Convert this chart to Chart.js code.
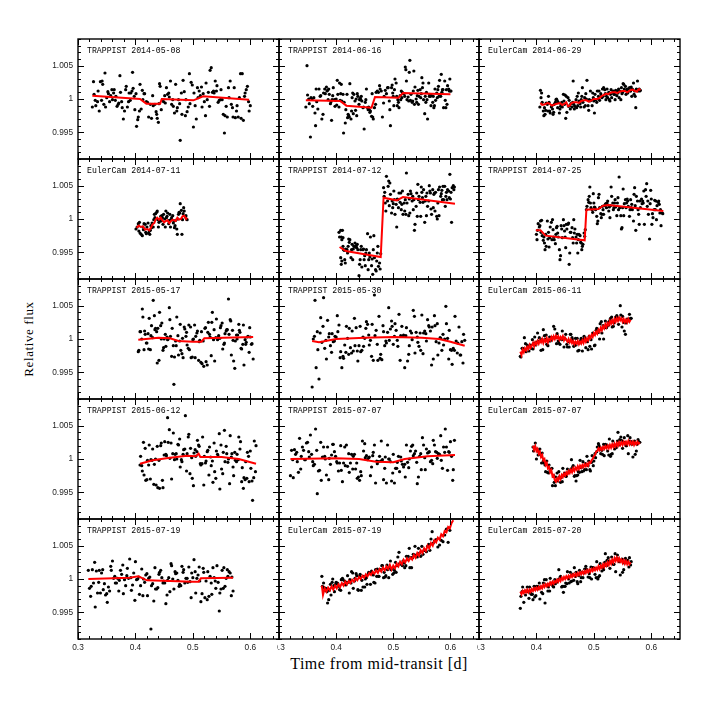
<!DOCTYPE html>
<html><head><meta charset="utf-8">
<script src="https://cdn.jsdelivr.net/npm/chart.js@4.4.1/dist/chart.umd.min.js"></script>
<style>
html,body{margin:0;padding:0;background:#fff;}
#wrap{position:relative;width:718px;height:718px;background:#fff;overflow:hidden;}
canvas{position:absolute;}
.ttl{position:absolute;font-family:"Liberation Serif","DejaVu Serif",serif;color:#000;white-space:nowrap;line-height:1;}
#xt{left:379px;top:656px;font-size:16px;transform:translateX(-50%);letter-spacing:0.5px;}
#yt{left:28px;top:339px;font-size:13px;transform:translate(-50%,-50%) rotate(-90deg);letter-spacing:0.6px;}
</style></head><body>
<div id="wrap">
<div class="ttl" id="xt">Time from mid-transit [d]</div>
<div class="ttl" id="yt">Relative flux</div>
</div>
<script>
const panelLabels = ["TRAPPIST 2014-05-08","TRAPPIST 2014-06-16","EulerCam 2014-06-29",
"EulerCam 2014-07-11","TRAPPIST 2014-07-12","TRAPPIST 2014-07-25",
"TRAPPIST 2015-05-17","TRAPPIST 2015-05-30","EulerCam 2015-06-11",
"TRAPPIST 2015-06-12","TRAPPIST 2015-07-07","EulerCam 2015-07-07",
"TRAPPIST 2015-07-19","EulerCam 2015-07-19","EulerCam 2015-07-20"];
const xTickValues = [0.3,0.4,0.5,0.6];
const xTickLabels = ["0.3","0.4","0.5","0.6"];
const yTickValues = [0.995,1,1.005];
const yTickLabels = ["0.995","1","1.005"];
const xRange = [0.3,0.65];
const yRange = [0.991,1.009];

// Panel 1: TRAPPIST 2014-05-08
const t1=[0.325,0.327,0.328,0.330,0.331,0.334,0.335,0.337,0.339,0.341,0.342,0.343,0.345,0.347,0.348,0.350,0.352,0.353,0.355,0.357,0.359,0.360,0.362,0.363,0.365,0.366,0.368,0.370,0.371,0.373,0.374,0.376,0.377,0.379,0.381,0.383,0.384,0.386,0.388,0.389,0.391,0.392,0.394,0.395,0.396,0.398,0.399,0.401,0.402,0.404,0.405,0.407,0.408,0.410,0.412,0.413,0.415,0.416,0.419,0.421,0.423,0.426,0.428,0.430,0.431,0.434,0.436,0.437,0.438,0.440,0.441,0.442,0.443,0.445,0.447,0.449,0.451,0.452,0.454,0.456,0.458,0.459,0.461,0.463,0.465,0.466,0.468,0.470,0.472,0.473,0.475,0.477,0.478,0.480,0.481,0.483,0.485,0.487,0.488,0.490,0.492,0.494,0.495,0.497,0.499,0.501,0.502,0.504,0.506,0.508,0.509,0.511,0.513,0.515,0.516,0.518,0.520,0.522,0.523,0.525,0.527,0.529,0.530,0.532,0.534,0.536,0.537,0.539,0.541,0.542,0.544,0.546,0.548,0.549,0.551,0.553,0.555,0.556,0.558,0.560,0.562,0.563,0.565,0.567,0.569,0.570,0.572,0.574,0.576,0.577,0.579,0.581,0.583,0.584,0.586,0.588,0.590,0.591,0.593,0.595,0.597,0.598,0.600];
const f1=[0.9988,1.0026,1.0007,0.9998,0.9990,0.9996,1.0012,0.9982,1.0026,0.9998,1.0027,1.0022,0.9992,1.0039,0.9988,1.0002,1.0011,1.0008,0.9996,1.0005,1.0014,0.9999,1.0009,1.0014,0.9998,1.0004,0.9989,0.9992,0.9994,1.0035,1.0010,0.9996,0.9987,0.9970,0.9982,1.0014,1.0019,0.9988,0.9996,1.0009,0.9998,1.0009,1.0012,1.0040,1.0016,1.0004,0.9984,1.0008,0.9959,0.9969,0.9973,0.9982,1.0022,0.9985,1.0013,0.9999,1.0008,1.0008,0.9996,0.9995,0.9973,0.9992,0.9971,1.0005,0.9990,0.9992,0.9981,0.9977,0.9971,0.9965,0.9993,1.0023,1.0019,0.9984,0.9999,0.9996,1.0005,0.9994,1.0017,1.0007,1.0009,1.0003,1.0027,0.9992,0.9999,0.9989,0.9979,1.0022,0.9982,0.9987,0.9999,0.9993,0.9938,1.0009,0.9977,1.0028,1.0011,0.9975,0.9999,0.9981,0.9988,1.0038,0.9993,1.0025,1.0021,0.9958,1.0009,0.9990,0.9970,1.0017,1.0002,1.0012,1.0005,1.0018,0.9988,1.0008,0.9996,0.9975,1.0024,0.9999,1.0010,0.9989,1.0043,1.0047,1.0010,1.0012,1.0009,1.0027,1.0012,1.0020,0.9995,0.9998,0.9999,1.0014,0.9999,0.9977,0.9949,0.9975,0.9989,0.9973,1.0017,1.0002,1.0027,0.9992,0.9987,0.9973,1.0017,0.9972,0.9982,0.9990,0.9973,1.0002,1.0038,0.9971,1.0038,0.9968,1.0004,1.0009,1.0014,1.0019,0.9996,0.9982,0.9990];
const mt1=[0.325,0.408,0.419,0.443,0.446,0.501,0.518,0.598];
const mf1=[1.0005,1.0000,0.9993,0.9993,1.0000,0.9998,1.0004,0.9999];

// Panel 2: TRAPPIST 2014-06-16
const t2=[0.347,0.349,0.350,0.352,0.353,0.355,0.356,0.358,0.359,0.361,0.363,0.364,0.365,0.366,0.368,0.370,0.372,0.373,0.375,0.377,0.378,0.380,0.381,0.383,0.384,0.385,0.386,0.387,0.388,0.390,0.391,0.392,0.393,0.394,0.395,0.397,0.398,0.399,0.400,0.401,0.402,0.403,0.405,0.406,0.407,0.408,0.409,0.410,0.412,0.413,0.414,0.416,0.417,0.419,0.420,0.421,0.422,0.423,0.424,0.426,0.427,0.428,0.429,0.430,0.431,0.433,0.434,0.435,0.436,0.437,0.438,0.440,0.441,0.442,0.443,0.444,0.445,0.447,0.448,0.449,0.451,0.452,0.453,0.455,0.456,0.457,0.458,0.459,0.460,0.462,0.463,0.464,0.465,0.467,0.469,0.470,0.472,0.474,0.476,0.477,0.479,0.481,0.483,0.484,0.486,0.488,0.490,0.491,0.493,0.494,0.495,0.497,0.498,0.499,0.500,0.501,0.502,0.503,0.505,0.506,0.507,0.508,0.509,0.510,0.512,0.513,0.514,0.515,0.516,0.517,0.519,0.520,0.521,0.522,0.523,0.524,0.526,0.527,0.528,0.529,0.530,0.531,0.533,0.534,0.535,0.536,0.537,0.538,0.540,0.541,0.542,0.543,0.544,0.545,0.547,0.548,0.549,0.550,0.551,0.552,0.553,0.555,0.556,0.557,0.558,0.559,0.560,0.562,0.563,0.564,0.565,0.566,0.567,0.569,0.570,0.571,0.572,0.573,0.574,0.576,0.577,0.578,0.579,0.580,0.581,0.583,0.584,0.585,0.586,0.587,0.588,0.590,0.591,0.592,0.593,0.594,0.595,0.597,0.598,0.599,0.600,0.601];
const f2=[0.9988,1.0050,1.0006,1.0000,0.9993,0.9943,1.0002,1.0000,0.9989,1.0002,0.9979,0.9960,1.0015,0.9996,0.9985,1.0015,1.0004,1.0005,0.9970,0.9977,1.0009,1.0015,1.0008,1.0018,1.0012,1.0013,0.9999,1.0015,1.0007,0.9993,0.9996,0.9968,0.9999,1.0005,1.0017,0.9999,0.9989,0.9998,1.0000,0.9991,1.0028,1.0007,0.9988,1.0024,0.9998,1.0008,1.0022,0.9997,1.0007,0.9949,0.9995,0.9964,0.9984,1.0007,0.9972,0.9977,0.9975,0.9973,1.0023,0.9970,0.9982,1.0002,1.0009,0.9978,1.0007,0.9997,0.9983,1.0000,0.9975,1.0008,1.0004,0.9992,0.9999,1.0001,0.9999,1.0004,0.9997,0.9987,0.9988,0.9955,0.9995,0.9999,1.0015,0.9987,0.9984,0.9988,0.9984,0.9980,0.9982,0.9974,1.0008,0.9973,0.9970,0.9987,0.9992,1.0010,1.0012,1.0010,1.0020,1.0015,1.0012,0.9973,0.9994,1.0004,1.0013,1.0008,1.0017,1.0017,0.9997,0.9984,0.9960,1.0017,1.0021,1.0009,1.0004,0.9990,1.0014,1.0030,1.0024,1.0004,0.9990,0.9999,0.9995,0.9987,1.0005,0.9999,1.0012,1.0002,1.0010,1.0008,1.0008,1.0004,1.0048,1.0044,1.0027,0.9999,1.0003,0.9997,1.0040,1.0058,0.9998,1.0007,0.9995,0.9997,1.0012,1.0042,0.9992,1.0018,1.0000,0.9995,1.0005,1.0013,0.9992,1.0004,1.0014,1.0002,1.0008,1.0032,1.0017,1.0024,0.9999,0.9978,1.0004,0.9995,1.0010,0.9999,0.9970,1.0024,1.0004,1.0007,1.0004,0.9990,1.0005,0.9995,1.0004,0.9987,0.9990,1.0015,0.9998,1.0009,1.0002,1.0014,1.0019,1.0004,1.0028,1.0004,1.0037,1.0010,1.0014,1.0014,0.9987,1.0027,0.9998,0.9987,1.0014,0.9992,1.0020,1.0015,1.0012,1.0030,1.0012,1.0012];
const mt2=[0.347,0.407,0.418,0.462,0.468,0.509,0.517,0.600];
const mf2=[0.9998,0.9997,0.9990,0.9987,1.0003,1.0002,1.0009,1.0007];

// Panel 3: EulerCam 2014-06-29
const t3=[0.406,0.407,0.408,0.409,0.410,0.412,0.413,0.414,0.415,0.416,0.417,0.419,0.420,0.421,0.422,0.423,0.424,0.426,0.427,0.428,0.429,0.430,0.431,0.433,0.434,0.435,0.436,0.437,0.438,0.440,0.441,0.442,0.443,0.444,0.445,0.447,0.448,0.449,0.450,0.451,0.452,0.453,0.455,0.456,0.457,0.458,0.459,0.460,0.462,0.463,0.464,0.465,0.466,0.467,0.469,0.470,0.471,0.472,0.473,0.474,0.476,0.477,0.478,0.479,0.480,0.481,0.483,0.484,0.485,0.486,0.487,0.488,0.490,0.491,0.492,0.493,0.494,0.495,0.497,0.498,0.499,0.500,0.501,0.502,0.503,0.505,0.506,0.507,0.508,0.509,0.510,0.512,0.513,0.514,0.515,0.516,0.517,0.519,0.520,0.521,0.522,0.523,0.524,0.526,0.527,0.528,0.529,0.530,0.531,0.533,0.534,0.535,0.536,0.537,0.538,0.540,0.541,0.542,0.543,0.544,0.545,0.547,0.548,0.549,0.550,0.551,0.552,0.553,0.555,0.556,0.557,0.558,0.559,0.560,0.562,0.563,0.564,0.565,0.566,0.567,0.569,0.570,0.571,0.572,0.573,0.574,0.576,0.577,0.578,0.579,0.580,0.581];
const f3=[0.9988,1.0013,1.0002,1.0009,0.9995,0.9982,0.9975,0.9987,0.9977,0.9983,0.9994,0.9992,0.9982,1.0004,0.9995,0.9982,0.9979,0.9988,0.9990,0.9985,0.9977,0.9980,0.9992,0.9995,0.9999,1.0000,0.9998,0.9987,0.9995,0.9979,0.9985,0.9989,0.9992,0.9995,0.9988,1.0007,0.9997,0.9992,1.0006,0.9971,1.0004,0.9980,1.0002,0.9989,0.9998,0.9990,0.9985,0.9993,0.9988,0.9995,1.0027,0.9992,0.9985,0.9989,0.9999,0.9987,1.0004,0.9990,1.0009,0.9997,0.9993,0.9988,0.9999,1.0004,1.0017,0.9995,0.9988,1.0002,0.9990,1.0008,1.0000,1.0028,0.9990,0.9983,0.9999,0.9997,1.0012,0.9998,0.9990,1.0009,1.0002,0.9997,0.9979,1.0007,0.9999,0.9995,1.0012,1.0000,1.0004,1.0012,0.9998,1.0008,1.0004,1.0002,1.0015,1.0004,1.0017,1.0014,1.0008,0.9999,1.0004,1.0015,1.0002,1.0010,0.9999,0.9997,1.0007,1.0014,1.0002,1.0010,1.0012,1.0007,1.0007,0.9999,1.0013,1.0005,1.0012,1.0009,1.0015,1.0002,1.0012,0.9999,1.0017,1.0008,1.0010,1.0023,1.0022,1.0015,1.0019,1.0007,1.0013,1.0015,1.0009,1.0015,1.0017,1.0012,1.0012,1.0018,1.0004,1.0015,1.0024,1.0007,1.0012,1.0004,0.9987,1.0015,1.0027,1.0012,1.0014,1.0015,1.0012,1.0013];
const mt3=[0.407,0.410,0.415,0.419,0.423,0.427,0.432,0.436,0.441,0.445,0.449,0.452,0.455,0.458,0.461,0.465,0.470,0.474,0.478,0.483,0.487,0.491,0.496,0.500,0.505,0.509,0.513,0.517,0.522,0.525,0.528,0.532,0.537,0.541,0.545,0.549,0.554,0.558,0.563,0.567,0.572,0.575,0.577,0.579,0.581];
const mf3=[0.9994,0.9991,0.9992,0.9994,0.9993,0.9990,0.9992,0.9993,0.9994,0.9991,0.9993,0.9995,0.9989,0.9990,0.9994,0.9995,0.9995,0.9994,0.9997,0.9998,0.9998,0.9996,0.9998,1.0000,1.0000,1.0001,1.0004,1.0006,1.0008,1.0007,1.0009,1.0010,1.0010,1.0009,1.0011,1.0012,1.0012,1.0010,1.0013,1.0014,1.0012,1.0011,1.0014,1.0015,1.0013];

// Panel 4: EulerCam 2014-07-11
const t4=[0.401,0.403,0.405,0.406,0.407,0.408,0.410,0.412,0.413,0.414,0.415,0.417,0.418,0.419,0.420,0.422,0.423,0.424,0.425,0.426,0.427,0.428,0.429,0.431,0.432,0.433,0.434,0.435,0.437,0.438,0.439,0.440,0.441,0.442,0.444,0.445,0.446,0.447,0.448,0.449,0.451,0.452,0.453,0.454,0.455,0.456,0.458,0.459,0.460,0.461,0.462,0.463,0.465,0.466,0.467,0.468,0.469,0.470,0.472,0.473,0.474,0.475,0.476,0.477,0.478,0.480,0.481,0.482,0.483,0.484,0.485,0.487,0.488,0.489,0.490];
const f4=[0.9985,0.9988,0.9993,0.9982,0.9995,0.9979,0.9977,0.9975,0.9988,0.9984,0.9993,0.9992,0.9980,0.9978,0.9988,0.9994,0.9979,0.9982,0.9977,0.9983,0.9990,0.9987,0.9994,0.9988,0.9999,1.0007,1.0002,1.0008,1.0010,1.0012,0.9999,0.9988,0.9995,0.9998,1.0004,0.9997,1.0005,1.0002,0.9992,1.0007,1.0000,0.9988,1.0012,1.0002,1.0004,1.0009,0.9993,0.9998,1.0007,0.9988,0.9999,1.0002,1.0005,0.9994,0.9997,0.9987,0.9990,0.9998,0.9985,0.9977,1.0000,1.0007,1.0010,1.0009,1.0023,1.0013,0.9977,0.9999,1.0008,1.0017,1.0012,1.0003,1.0005,1.0000,0.9999];
const mt4=[0.402,0.406,0.409,0.413,0.417,0.421,0.424,0.427,0.430,0.433,0.435,0.438,0.441,0.444,0.447,0.450,0.453,0.456,0.459,0.462,0.465,0.467,0.470,0.473,0.476,0.479,0.482,0.485,0.488,0.490];
const mf4=[0.9987,0.9990,0.9988,0.9989,0.9984,0.9985,0.9983,0.9987,0.9992,0.9994,0.9999,1.0002,0.9999,1.0002,0.9998,0.9995,0.9997,0.9998,0.9994,0.9997,0.9999,0.9998,0.9997,1.0002,0.9999,1.0000,1.0004,1.0005,1.0000,1.0002];

// Panel 5: TRAPPIST 2014-07-12
const t5=[0.405,0.406,0.408,0.409,0.410,0.411,0.412,0.408,0.409,0.410,0.412,0.413,0.414,0.415,0.416,0.417,0.419,0.420,0.421,0.422,0.423,0.424,0.426,0.427,0.428,0.429,0.430,0.431,0.433,0.434,0.435,0.436,0.437,0.438,0.440,0.441,0.442,0.443,0.444,0.445,0.447,0.448,0.449,0.450,0.451,0.452,0.453,0.455,0.456,0.457,0.458,0.459,0.460,0.462,0.463,0.464,0.465,0.466,0.467,0.469,0.470,0.471,0.472,0.473,0.474,0.476,0.477,0.478,
0.483,0.484,0.485,0.486,0.487,0.488,0.490,0.491,0.492,0.493,0.494,0.495,0.497,0.498,0.499,0.500,0.501,0.502,0.503,0.505,0.506,0.507,0.508,0.509,0.510,0.512,0.513,0.514,0.515,0.516,0.517,0.519,0.520,0.521,0.522,0.523,0.524,0.526,0.527,0.528,0.529,0.530,0.531,0.533,0.534,0.535,0.536,0.537,0.538,0.540,0.541,0.542,0.543,0.544,0.545,0.547,0.548,0.549,0.550,0.551,0.552,0.553,0.555,0.556,0.557,0.558,0.559,0.560,0.562,0.563,0.564,0.565,0.566,0.567,0.569,0.570,0.571,0.572,0.573,0.574,0.576,0.577,0.578,0.579,0.580,0.581,0.583,0.584,0.585,0.586,0.587,0.588,0.590,0.591,0.592,0.593,0.594,0.595,0.597,0.598,0.599,0.600,0.601,0.602,0.603,0.605,0.606,0.607];
const f5=[0.9980,0.9973,0.9983,0.9973,0.9969,0.9983,0.9972,0.9942,0.9932,0.9937,0.9959,0.9954,0.9953,0.9939,0.9934,0.9955,0.9954,0.9949,0.9959,0.9970,0.9965,0.9969,0.9942,0.9954,0.9962,0.9939,0.9955,0.9959,0.9964,0.9958,0.9960,0.9957,0.9962,0.9954,0.9915,0.9932,0.9939,0.9954,0.9959,0.9928,0.9954,0.9955,0.9939,0.9945,0.9930,0.9949,0.9954,0.9978,0.9924,0.9939,0.9949,0.9943,0.9973,0.9930,0.9940,0.9917,0.9954,0.9975,0.9942,0.9924,0.9922,0.9937,0.9949,0.9959,0.9929,0.9934,0.9925,0.9948,
1.0047,1.0034,1.0040,1.0024,1.0012,1.0064,1.0027,1.0049,1.0057,1.0020,1.0054,1.0037,1.0009,1.0027,1.0017,1.0023,1.0042,1.0029,1.0007,1.0022,0.9988,1.0030,1.0029,1.0017,1.0039,1.0025,1.0039,1.0014,1.0022,1.0042,1.0007,1.0024,1.0012,1.0029,1.0007,1.0069,1.0024,1.0037,1.0005,1.0030,1.0009,1.0042,1.0038,1.0027,1.0034,1.0014,1.0029,0.9983,0.9992,1.0019,1.0039,1.0004,1.0052,1.0029,1.0034,1.0025,1.0004,1.0048,1.0040,1.0032,1.0025,1.0044,0.9995,1.0027,1.0034,1.0005,1.0039,1.0019,1.0027,1.0050,1.0042,1.0039,1.0015,1.0007,1.0044,1.0017,1.0037,1.0039,1.0012,1.0040,1.0004,1.0000,1.0024,1.0044,1.0005,1.0048,1.0034,1.0038,1.0043,1.0029,1.0049,1.0029,1.0049,1.0019,1.0034,1.0040,1.0029,1.0044,1.0042,1.0032,1.0067,1.0030,1.0040,0.9995,1.0047,1.0050,1.0044,1.0048];
const mt5=[0.406,0.417,0.478,0.483,0.506,0.517,0.608];
const mf5=[0.9958,0.9952,0.9943,1.0032,1.0028,1.0033,1.0023];

// Panel 6: TRAPPIST 2014-07-25
const t6=[0.400,0.401,0.402,0.403,0.405,0.406,0.407,0.408,0.409,0.410,0.412,0.413,0.414,0.415,0.416,0.417,0.419,0.420,0.421,0.422,0.423,0.424,0.426,0.427,0.428,0.429,0.430,0.431,0.433,0.434,0.435,0.436,0.437,0.438,0.440,0.441,0.442,0.443,0.444,0.445,0.447,0.448,0.449,0.450,0.451,0.452,0.453,0.455,0.456,0.457,0.458,0.459,0.460,0.462,0.463,0.464,0.465,0.466,0.467,0.469,0.470,0.471,0.472,0.473,0.474,0.476,0.477,0.478,0.479,0.480,0.481,0.483,0.484,0.485,
0.487,0.488,0.490,0.491,0.492,0.493,0.494,0.495,0.497,0.498,0.499,0.500,0.501,0.502,0.503,0.505,0.506,0.507,0.508,0.509,0.510,0.512,0.513,0.514,0.515,0.516,0.517,0.519,0.520,0.521,0.522,0.523,0.524,0.526,0.527,0.528,0.529,0.530,0.531,0.533,0.534,0.535,0.536,0.537,0.538,0.540,0.541,0.542,0.543,0.544,0.545,0.547,0.548,0.549,0.550,0.551,0.552,0.553,0.555,0.556,0.557,0.558,0.559,0.560,0.562,0.563,0.564,0.565,0.566,0.567,0.569,0.570,0.571,0.572,0.573,0.574,0.576,0.577,0.578,0.579,0.580,0.581,0.583,0.584,0.585,0.586,0.587,0.588,0.590,0.591,0.592,0.593,0.594,0.595,0.597,0.598,0.599,0.600,0.601,0.602,0.603,0.605,0.606,0.607,0.608,0.609,0.610,0.612,0.613,0.614,0.615,0.616,0.617,0.619,0.620];
const f6=[0.9977,0.9969,0.9983,0.9993,0.9988,0.9990,0.9997,0.9980,0.9998,0.9975,0.9968,0.9973,0.9964,0.9954,0.9977,0.9959,0.9997,0.9970,0.9980,0.9958,0.9972,0.9988,0.9995,0.9969,0.9999,0.9984,0.9973,0.9969,0.9963,0.9977,0.9987,0.9989,0.9979,0.9973,0.9954,0.9939,0.9945,0.9990,0.9985,0.9972,0.9999,0.9990,0.9982,0.9973,0.9957,0.9992,0.9985,0.9992,0.9994,0.9932,0.9949,0.9980,0.9980,0.9987,0.9972,0.9964,0.9999,0.9979,0.9985,0.9973,0.9964,0.9977,0.9949,0.9969,0.9977,0.9975,0.9965,0.9964,0.9954,0.9959,0.9962,0.9979,0.9974,0.9984,
1.0014,1.0019,1.0029,1.0025,1.0034,1.0048,1.0024,1.0017,1.0014,1.0010,1.0038,1.0024,1.0018,1.0017,1.0014,1.0004,0.9993,0.9997,1.0032,1.0037,1.0017,1.0008,1.0002,1.0007,1.0019,1.0014,1.0007,1.0020,1.0022,1.0023,1.0017,1.0024,1.0027,1.0012,1.0018,1.0002,1.0020,1.0048,1.0034,1.0024,1.0014,1.0017,1.0024,1.0029,1.0018,1.0005,1.0024,1.0032,1.0014,1.0063,1.0017,1.0005,0.9985,0.9987,1.0017,1.0045,1.0005,1.0023,1.0029,1.0017,1.0024,1.0030,1.0027,1.0019,1.0004,1.0014,1.0029,1.0017,1.0022,1.0014,0.9997,1.0037,1.0047,1.0020,0.9983,1.0034,1.0027,1.0014,1.0007,0.9992,1.0027,1.0017,1.0030,1.0023,1.0027,1.0024,1.0042,0.9992,1.0044,1.0034,1.0053,1.0019,1.0027,1.0007,0.9970,1.0023,1.0043,1.0030,0.9992,1.0008,1.0002,1.0014,1.0028,1.0014,1.0027,0.9999,1.0020,1.0025,1.0027,1.0022,1.0009,1.0014,0.9990,1.0009,1.0008];
const mt6=[0.399,0.407,0.416,0.484,0.487,0.508,0.516,0.525,0.621];
const mf6=[0.9983,0.9983,0.9975,0.9968,1.0014,1.0015,1.0020,1.0021,1.0012];

// Panels 7-15 as [time, flux] pairs
// Panel 7: TRAPPIST 2015-05-17
const p7=[[0.405,0.9981],[0.406,0.9983],[0.408,1.0011],[0.409,1.0011],[0.411,1.0000],[0.412,1.0045],[0.413,1.0033],[0.415,0.9984],[0.416,1.0012],[0.417,1.0007],
[0.419,0.9994],[0.420,0.9994],[0.422,1.0008],[0.423,0.9985],[0.424,1.0031],[0.426,0.9984],[0.427,1.0005],[0.428,1.0020],[0.430,1.0002],[0.431,1.0058],
[0.433,1.0035],[0.434,1.0014],[0.435,1.0016],[0.437,1.0011],[0.438,0.9964],[0.439,1.0016],[0.441,0.9968],[0.442,1.0040],[0.444,1.0020],[0.445,1.0000],
[0.446,1.0024],[0.448,0.9983],[0.449,0.9987],[0.450,1.0000],[0.452,1.0007],[0.453,0.9989],[0.455,1.0003],[0.456,0.9999],[0.457,1.0000],[0.459,1.0047],
[0.460,1.0029],[0.461,1.0004],[0.463,0.9974],[0.464,1.0016],[0.466,0.9990],[0.467,0.9932],[0.468,0.9973],[0.470,0.9997],[0.471,0.9990],[0.472,1.0033],
[0.474,1.0005],[0.475,0.9976],[0.477,0.9997],[0.478,1.0022],[0.479,0.9983],[0.481,0.9978],[0.482,1.0001],[0.483,0.9972],[0.485,1.0018],[0.486,1.0015],
[0.488,1.0004],[0.489,1.0010],[0.490,0.9991],[0.492,0.9986],[0.493,1.0021],[0.494,0.9984],[0.496,1.0018],[0.497,0.9972],[0.499,0.9973],[0.500,0.9999],
[0.501,1.0000],[0.503,1.0021],[0.504,0.9972],[0.505,1.0004],[0.507,1.0009],[0.508,1.0012],[0.510,0.9968],[0.511,0.9996],[0.512,0.9998],[0.514,0.9965],
[0.515,1.0011],[0.516,0.9963],[0.518,0.9997],[0.519,0.9959],[0.521,1.0016],[0.522,1.0017],[0.523,0.9966],[0.525,0.9961],[0.526,1.0010],[0.527,1.0025],
[0.529,1.0007],[0.530,1.0003],[0.532,0.9975],[0.533,1.0025],[0.534,1.0040],[0.536,0.9999],[0.537,1.0014],[0.538,0.9967],[0.540,1.0002],[0.541,1.0030],
[0.543,0.9999],[0.544,1.0002],[0.545,1.0005],[0.547,1.0001],[0.548,1.0017],[0.549,1.0020],[0.551,1.0024],[0.552,0.9985],[0.554,0.9992],[0.555,0.9994],
[0.556,1.0008],[0.558,1.0012],[0.559,1.0014],[0.560,1.0014],[0.562,1.0060],[0.563,1.0007],[0.565,1.0029],[0.566,1.0027],[0.567,0.9976],[0.569,1.0013],
[0.570,0.9998],[0.571,0.9967],[0.573,0.9956],[0.574,0.9997],[0.576,1.0006],[0.577,1.0000],[0.578,1.0006],[0.580,1.0022],[0.581,1.0013],[0.582,1.0010],
[0.584,0.9986],[0.585,0.9985],[0.587,0.9992],[0.588,1.0021],[0.589,0.9961],[0.591,0.9999],[0.592,0.9992],[0.593,0.9995],[0.595,1.0003],[0.596,1.0004],
[0.598,0.9980],[0.599,1.0017],[0.600,1.0003],[0.602,0.9992],[0.603,0.9993],[0.605,0.9970]];
const m7=[[0.405,0.9999],[0.44,1.0002],[0.46,1.0001],[0.475,0.9997],[0.50,0.9996],[0.515,0.9996],[0.52,1.0001],[0.605,1.0003]];

// Panel 8: TRAPPIST 2015-05-30
const p8=[[0.358,0.9928],[0.360,1.0000],[0.362,1.0004],[0.363,1.0058],[0.365,0.9957],[0.367,1.0011],[0.368,0.9984],[0.370,0.9940],[0.372,1.0009],[0.373,1.0032],
[0.375,0.9995],[0.377,1.0019],[0.378,1.0062],[0.380,0.9986],[0.382,0.9998],[0.383,0.9970],[0.385,1.0028],[0.387,1.0003],[0.388,1.0008],[0.390,0.9990],
[0.392,0.9980],[0.393,1.0008],[0.395,0.9996],[0.397,0.9997],[0.398,1.0004],[0.400,1.0003],[0.402,1.0035],[0.403,1.0011],[0.405,1.0021],[0.407,0.9972],
[0.408,0.9981],[0.410,0.9957],[0.412,0.9974],[0.413,0.9971],[0.415,0.9991],[0.417,0.9980],[0.418,1.0019],[0.420,1.0001],[0.422,0.9977],[0.423,1.0016],
[0.425,0.9987],[0.427,0.9979],[0.428,1.0012],[0.430,0.9982],[0.432,1.0031],[0.433,0.9990],[0.435,1.0017],[0.437,0.9982],[0.438,0.9967],[0.440,0.9990],
[0.442,1.0019],[0.443,0.9981],[0.445,0.9983],[0.447,1.0003],[0.448,0.9989],[0.450,1.0001],[0.452,1.0016],[0.453,1.0026],[0.455,1.0022],[0.457,1.0006],
[0.458,0.9991],[0.460,0.9998],[0.462,0.9974],[0.463,1.0022],[0.465,0.9968],[0.467,1.0066],[0.468,1.0005],[0.470,1.0013],[0.472,0.9992],[0.473,0.9968],
[0.475,1.0034],[0.477,0.9971],[0.478,0.9977],[0.480,0.9969],[0.482,1.0020],[0.483,1.0011],[0.485,0.9990],[0.487,0.9997],[0.488,0.9994],[0.490,1.0010],
[0.492,1.0047],[0.493,0.9998],[0.495,1.0015],[0.497,1.0027],[0.498,1.0019],[0.500,0.9992],[0.502,1.0004],[0.503,1.0023],[0.505,1.0013],[0.507,0.9998],
[0.508,0.9989],[0.510,1.0037],[0.512,0.9968],[0.513,1.0005],[0.515,1.0019],[0.517,1.0004],[0.518,1.0006],[0.520,0.9957],[0.522,1.0005],[0.523,1.0017],
[0.525,0.9967],[0.527,0.9977],[0.528,0.9990],[0.530,1.0012],[0.532,1.0009],[0.533,0.9999],[0.535,1.0043],[0.537,1.0034],[0.538,0.9979],[0.540,1.0010],
[0.542,1.0003],[0.543,0.9995],[0.545,0.9989],[0.547,1.0009],[0.548,0.9983],[0.550,1.0036],[0.552,0.9978],[0.553,1.0009],[0.555,1.0012],[0.557,1.0008],
[0.558,0.9997],[0.560,1.0029],[0.562,1.0020],[0.563,1.0018],[0.565,1.0012],[0.567,0.9961],[0.568,1.0018],[0.570,0.9970],[0.572,1.0035],[0.573,1.0020],
[0.575,0.9996],[0.577,1.0023],[0.578,0.9976],[0.580,0.9994],[0.582,1.0002],[0.583,1.0001],[0.585,0.9983],[0.587,1.0007],[0.588,0.9991],[0.590,1.0000],
[0.592,1.0049],[0.593,1.0023],[0.595,1.0001],[0.597,0.9970],[0.598,1.0013],[0.600,0.9984],[0.602,0.9983],[0.603,0.9962],[0.605,0.9986],[0.607,0.9983],
[0.608,1.0034],[0.610,0.9997],[0.612,0.9979],[0.613,0.9994],[0.615,1.0018],[0.617,0.9976],[0.618,0.9976],[0.620,0.9996],[0.622,0.9964],[0.623,1.0007],
[0.625,0.9998]];
const m8=[[0.358,0.9997],[0.37,0.9995],[0.40,1.0000],[0.45,1.0002],[0.50,1.0003],[0.55,1.0002],[0.58,1.0000],[0.60,0.9996],[0.625,0.9990]];

// Panel 9: EulerCam 2015-06-11
const p9=[[0.372,0.9974],[0.373,0.9973],[0.375,0.9986],[0.376,0.9986],[0.378,0.9984],[0.379,1.0002],[0.381,0.9993],[0.382,0.9981],[0.384,0.9991],[0.385,0.9989],
[0.387,0.9982],[0.388,0.9989],[0.390,0.9991],[0.391,0.9986],[0.393,0.9999],[0.394,0.9985],[0.396,0.9994],[0.397,1.0003],[0.399,0.9991],[0.400,0.9995],
[0.402,1.0009],[0.403,0.9997],[0.405,1.0002],[0.406,0.9997],[0.408,0.9983],[0.409,0.9999],[0.411,0.9984],[0.412,1.0014],[0.414,1.0005],[0.415,1.0000],
[0.417,1.0006],[0.418,0.9992],[0.420,0.9990],[0.421,0.9997],[0.423,1.0003],[0.424,0.9997],[0.426,0.9999],[0.427,1.0001],[0.429,1.0002],[0.430,1.0019],
[0.432,1.0015],[0.433,1.0002],[0.435,0.9993],[0.436,1.0008],[0.438,0.9997],[0.439,0.9994],[0.441,0.9992],[0.442,1.0001],[0.444,0.9999],[0.445,1.0012],
[0.447,1.0002],[0.448,0.9988],[0.450,1.0000],[0.451,1.0007],[0.453,0.9992],[0.454,0.9988],[0.456,0.9996],[0.457,0.9988],[0.459,1.0007],[0.460,1.0007],
[0.462,1.0002],[0.463,0.9999],[0.465,0.9989],[0.466,0.9990],[0.468,1.0001],[0.469,0.9991],[0.471,1.0001],[0.472,0.9982],[0.474,0.9983],[0.475,0.9994],
[0.477,0.9998],[0.478,1.0001],[0.480,0.9982],[0.481,0.9999],[0.483,1.0004],[0.484,1.0001],[0.486,0.9987],[0.487,0.9997],[0.489,0.9996],[0.490,0.9984],
[0.492,1.0004],[0.493,0.9989],[0.495,0.9999],[0.496,0.9985],[0.498,1.0009],[0.499,1.0007],[0.501,0.9990],[0.502,0.9991],[0.504,1.0013],[0.505,1.0016],
[0.507,1.0010],[0.508,1.0010],[0.510,1.0000],[0.511,1.0023],[0.513,1.0026],[0.514,1.0009],[0.516,1.0020],[0.517,1.0000],[0.519,1.0017],[0.520,1.0027],
[0.522,1.0017],[0.523,1.0019],[0.525,1.0025],[0.526,1.0021],[0.528,1.0028],[0.529,1.0031],[0.531,1.0033],[0.532,1.0018],[0.534,1.0019],[0.535,1.0024],
[0.537,1.0029],[0.538,1.0033],[0.540,1.0035],[0.541,1.0032],[0.543,1.0022],[0.544,1.0031],[0.546,1.0050],[0.547,1.0036],[0.549,1.0018],[0.550,1.0034],
[0.552,1.0025],[0.553,1.0012],[0.555,1.0007],[0.556,1.0024],[0.558,1.0030],[0.559,1.0027],[0.561,1.0030],[0.562,1.0037],[0.564,1.0031],[0.565,1.0031]];
const m9=[[0.372,0.9981],[0.374,0.9976],[0.376,0.9984],[0.378,0.9980],[0.380,0.9986],[0.382,0.9983],[0.384,0.9988],[0.386,0.9985],[0.388,0.9991],[0.390,0.9987],[0.392,0.9990],[0.394,0.9994],[0.396,0.9989],[0.398,0.9995],[0.400,0.9992],[0.402,0.9997],[0.404,0.9993],[0.406,0.9998],[0.408,0.9995],[0.410,1.0000],[0.412,0.9994],[0.414,0.9999],[0.416,0.9996],[0.418,1.0001],[0.420,0.9995],[0.422,1.0000],[0.424,0.9998],[0.426,1.0003],[0.428,0.9999],[0.430,1.0004],[0.432,1.0000],[0.434,1.0005],[0.436,1.0001],[0.438,1.0004],[0.440,0.9999],[0.442,1.0003],[0.444,1.0000],[0.446,1.0004],[0.448,0.9998],[0.450,1.0002],[0.452,0.9999],[0.454,0.9996],[0.456,1.0000],[0.458,0.9995],[0.460,0.9999],[0.462,0.9994],[0.464,0.9997],[0.466,0.9992],[0.468,0.9996],[0.470,0.9993],[0.472,0.9997],[0.474,0.9992],[0.476,0.9996],[0.478,0.9993],[0.480,0.9998],[0.482,0.9994],[0.484,1.0000],[0.486,0.9996],[0.488,1.0001],[0.490,0.9998],[0.492,1.0004],[0.494,1.0001],[0.496,1.0006],[0.498,1.0003],[0.500,1.0009],[0.502,1.0006],[0.504,1.0011],[0.506,1.0008],[0.508,1.0014],[0.510,1.0011],[0.512,1.0017],[0.514,1.0013],[0.516,1.0019],[0.518,1.0016],[0.520,1.0022],[0.522,1.0018],[0.524,1.0024],[0.526,1.0021],[0.528,1.0027],[0.530,1.0023],[0.532,1.0028],[0.534,1.0024],[0.536,1.0030],[0.538,1.0026],[0.540,1.0031],[0.542,1.0027],[0.544,1.0032],[0.546,1.0028],[0.548,1.0031],[0.550,1.0026],[0.552,1.0030],[0.554,1.0025],[0.556,1.0029],[0.558,1.0025],[0.560,1.0030],[0.562,1.0026],[0.564,1.0029]];

// Panel 10: TRAPPIST 2015-06-12
const p10=[[0.408,0.9991],[0.409,1.0004],[0.411,0.9990],[0.412,0.9982],[0.414,1.0025],[0.415,0.9976],[0.417,1.0016],[0.418,0.9968],[0.420,0.9969],[0.421,0.9998],
[0.423,0.9991],[0.424,1.0021],[0.426,0.9970],[0.427,0.9999],[0.429,0.9998],[0.430,1.0015],[0.432,0.9962],[0.433,0.9992],[0.435,1.0000],[0.436,0.9961],
[0.438,1.0019],[0.439,0.9957],[0.441,0.9998],[0.442,0.9956],[0.444,1.0020],[0.445,1.0024],[0.447,0.9968],[0.448,0.9957],[0.450,1.0006],[0.451,1.0026],
[0.453,1.0007],[0.454,1.0005],[0.456,1.0062],[0.457,1.0025],[0.459,1.0044],[0.460,1.0001],[0.462,1.0024],[0.463,0.9970],[0.465,1.0008],[0.466,1.0039],
[0.468,0.9999],[0.469,1.0007],[0.471,1.0008],[0.472,1.0000],[0.474,1.0022],[0.475,1.0021],[0.477,1.0030],[0.478,0.9988],[0.480,0.9999],[0.481,0.9996],
[0.483,1.0007],[0.484,1.0014],[0.486,1.0015],[0.487,1.0065],[0.489,0.9982],[0.490,1.0008],[0.492,1.0033],[0.493,1.0037],[0.495,0.9978],[0.496,1.0016],
[0.498,1.0002],[0.499,0.9971],[0.501,0.9960],[0.502,1.0009],[0.504,1.0014],[0.505,1.0004],[0.507,1.0011],[0.508,1.0028],[0.510,1.0021],[0.511,1.0019],
[0.513,0.9993],[0.514,0.9991],[0.516,0.9993],[0.517,1.0033],[0.519,0.9961],[0.520,1.0004],[0.522,0.9994],[0.523,0.9997],[0.525,1.0011],[0.526,1.0013],
[0.528,0.9976],[0.529,1.0018],[0.531,1.0003],[0.532,0.9990],[0.534,0.9997],[0.535,0.9965],[0.537,1.0024],[0.538,0.9981],[0.540,0.9971],[0.541,1.0012],
[0.543,1.0007],[0.544,1.0004],[0.546,1.0038],[0.547,0.9955],[0.549,1.0021],[0.550,0.9985],[0.552,0.9978],[0.553,1.0010],[0.555,1.0043],[0.556,0.9996],
[0.558,1.0019],[0.559,1.0008],[0.561,0.9995],[0.562,1.0000],[0.564,0.9963],[0.565,1.0035],[0.567,1.0003],[0.568,1.0008],[0.570,0.9988],[0.571,0.9975],
[0.573,1.0010],[0.574,0.9998],[0.576,0.9996],[0.577,1.0007],[0.579,0.9999],[0.580,1.0033],[0.582,1.0015],[0.583,1.0026],[0.585,0.9966],[0.586,0.9987],
[0.588,0.9956],[0.589,0.9972],[0.591,0.9969],[0.592,0.9996],[0.594,0.9971],[0.595,1.0010],[0.597,1.0004],[0.598,0.9966],[0.600,1.0012],[0.601,0.9986],
[0.603,0.9967],[0.604,0.9938],[0.606,0.9972],[0.607,1.0027],[0.609,0.9981],[0.610,1.0020]];
const m10=[[0.408,0.9993],[0.43,0.9998],[0.46,1.0002],[0.49,1.0005],[0.505,1.0004],[0.51,1.0008],[0.513,1.0003],[0.55,1.0003],[0.58,1.0000],[0.61,0.9993]];

// Panel 11: TRAPPIST 2015-07-07
const p11=[[0.320,0.9975],[0.322,1.0013],[0.324,0.9999],[0.325,0.9972],[0.327,1.0014],[0.329,1.0007],[0.331,1.0010],[0.332,0.9996],[0.334,0.9980],[0.336,1.0031],
[0.338,0.9985],[0.339,1.0004],[0.341,1.0018],[0.343,1.0013],[0.345,0.9999],[0.346,0.9999],[0.348,1.0024],[0.350,1.0025],[0.352,1.0011],[0.353,1.0003],
[0.355,1.0036],[0.357,1.0007],[0.359,0.9996],[0.360,0.9990],[0.362,0.9992],[0.364,1.0045],[0.366,1.0013],[0.367,0.9948],[0.369,0.9982],[0.371,0.9983],
[0.373,1.0025],[0.374,0.9968],[0.376,1.0003],[0.378,1.0018],[0.380,1.0004],[0.381,1.0000],[0.383,0.9976],[0.385,1.0018],[0.387,0.9969],[0.388,1.0001],
[0.390,0.9992],[0.392,1.0006],[0.394,1.0022],[0.395,1.0022],[0.397,1.0011],[0.399,1.0004],[0.401,0.9996],[0.402,0.9994],[0.404,0.9982],[0.406,0.9994],
[0.408,1.0020],[0.409,0.9983],[0.411,0.9966],[0.413,0.9994],[0.415,1.0018],[0.416,0.9990],[0.418,1.0021],[0.420,0.9989],[0.422,1.0008],[0.423,0.9980],
[0.425,0.9994],[0.427,1.0007],[0.429,0.9985],[0.430,1.0004],[0.432,1.0007],[0.434,0.9985],[0.436,0.9994],[0.437,0.9971],[0.439,0.9973],[0.441,0.9968],
[0.443,0.9981],[0.444,0.9975],[0.446,1.0027],[0.448,1.0012],[0.450,1.0023],[0.451,1.0002],[0.453,1.0005],[0.455,0.9999],[0.457,1.0002],[0.458,1.0003],
[0.460,0.9975],[0.462,0.9988],[0.464,1.0005],[0.465,1.0010],[0.467,1.0021],[0.469,0.9964],[0.471,0.9997],[0.472,0.9993],[0.474,0.9996],[0.476,1.0004],
[0.478,0.9997],[0.479,1.0027],[0.481,0.9999],[0.483,0.9969],[0.485,0.9986],[0.486,1.0003],[0.488,0.9964],[0.490,1.0021],[0.492,1.0000],[0.493,1.0000],
[0.495,0.9996],[0.497,0.9967],[0.499,0.9979],[0.500,1.0007],[0.502,0.9964],[0.504,0.9986],[0.506,0.9986],[0.507,0.9995],[0.509,1.0004],[0.511,0.9981],
[0.513,1.0003],[0.514,0.9997],[0.516,0.9992],[0.518,0.9988],[0.520,0.9992],[0.521,0.9973],[0.523,1.0021],[0.525,0.9995],[0.527,0.9987],[0.528,1.0000],
[0.530,1.0012],[0.532,1.0019],[0.534,1.0021],[0.535,1.0005],[0.537,1.0008],[0.539,1.0012],[0.541,0.9995],[0.542,0.9963],[0.544,0.9973],[0.546,1.0004],
[0.548,1.0008],[0.549,0.9984],[0.551,1.0032],[0.553,1.0021],[0.555,1.0002],[0.556,0.9984],[0.558,1.0015],[0.560,1.0009],[0.562,1.0010],[0.563,1.0011],
[0.565,0.9996],[0.567,0.9998],[0.569,0.9993],[0.570,1.0028],[0.572,1.0021],[0.574,1.0011],[0.576,1.0010],[0.577,1.0001],[0.579,1.0008],[0.581,1.0007],
[0.583,1.0035],[0.584,0.9998],[0.586,0.9986],[0.588,1.0018],[0.590,1.0010],[0.591,1.0045],[0.593,1.0018],[0.595,0.9983],[0.597,1.0011],[0.598,1.0010],
[0.600,1.0026],[0.602,1.0004],[0.604,0.9968],[0.605,0.9984],[0.607,1.0028]];
const m11=[[0.32,1.0000],[0.40,1.0001],[0.44,1.0000],[0.47,0.9996],[0.50,0.9995],[0.52,1.0000],[0.56,1.0004],[0.608,1.0006]];

// Panel 12: EulerCam 2015-07-07
const p12=[[0.394,1.0018],[0.395,1.0012],[0.397,1.0018],[0.398,1.0024],[0.400,1.0000],[0.401,1.0015],[0.403,1.0006],[0.404,1.0011],[0.406,1.0015],[0.407,1.0007],
[0.409,0.9994],[0.410,1.0009],[0.412,0.9997],[0.413,0.9994],[0.415,0.9991],[0.416,0.9981],[0.418,0.9997],[0.419,0.9980],[0.421,0.9979],[0.422,0.9991],
[0.424,0.9983],[0.425,0.9985],[0.427,0.9986],[0.428,0.9960],[0.430,0.9975],[0.431,0.9965],[0.433,0.9960],[0.434,0.9973],[0.436,0.9979],[0.437,0.9967],
[0.439,0.9981],[0.440,0.9973],[0.442,0.9965],[0.443,0.9972],[0.445,0.9966],[0.446,0.9986],[0.448,0.9977],[0.449,0.9979],[0.451,0.9974],[0.452,0.9974],
[0.454,0.9985],[0.455,0.9979],[0.457,0.9981],[0.458,0.9982],[0.460,0.9985],[0.461,0.9999],[0.463,0.9988],[0.464,0.9990],[0.466,0.9974],[0.467,0.9975],
[0.469,0.9967],[0.470,0.9975],[0.472,0.9976],[0.473,0.9981],[0.475,0.9980],[0.476,0.9998],[0.478,0.9987],[0.479,0.9981],[0.481,0.9996],[0.482,0.9982],
[0.484,0.9984],[0.485,0.9993],[0.487,0.9984],[0.488,1.0004],[0.490,0.9990],[0.491,0.9997],[0.493,0.9984],[0.494,0.9982],[0.496,0.9995],[0.497,1.0005],
[0.499,0.9990],[0.500,0.9997],[0.502,1.0008],[0.503,1.0002],[0.505,1.0011],[0.506,1.0018],[0.508,1.0023],[0.509,1.0020],[0.511,1.0017],[0.512,1.0008],
[0.514,1.0013],[0.515,1.0007],[0.517,1.0022],[0.518,1.0005],[0.520,1.0022],[0.521,1.0021],[0.523,1.0021],[0.524,1.0012],[0.526,1.0006],[0.527,1.0030],
[0.529,1.0004],[0.530,1.0007],[0.532,1.0008],[0.533,1.0027],[0.535,1.0021],[0.536,1.0015],[0.538,1.0020],[0.539,1.0017],[0.541,1.0027],[0.542,1.0040],
[0.544,1.0021],[0.545,1.0029],[0.547,1.0033],[0.548,1.0028],[0.550,1.0016],[0.551,1.0025],[0.553,1.0032],[0.554,1.0025],[0.556,1.0020],[0.557,1.0020],
[0.559,1.0035],[0.560,1.0008],[0.562,1.0027],[0.563,1.0032],[0.565,1.0026],[0.566,1.0022],[0.568,1.0003],[0.569,1.0024],[0.571,1.0027],[0.572,1.0007],
[0.574,1.0012],[0.575,1.0022],[0.577,1.0029],[0.578,1.0026],[0.580,1.0025]];
const m12=[[0.394,1.0020],[0.396,1.0014],[0.398,1.0019],[0.400,1.0012],[0.402,1.0015],[0.404,1.0008],[0.406,1.0011],[0.408,1.0003],[0.410,1.0006],[0.412,0.9998],[0.414,1.0000],[0.416,0.9991],[0.418,0.9994],[0.420,0.9986],[0.422,0.9988],[0.424,0.9980],[0.426,0.9983],[0.428,0.9974],[0.430,0.9976],[0.432,0.9968],[0.434,0.9966],[0.436,0.9971],[0.438,0.9968],[0.440,0.9974],[0.442,0.9970],[0.444,0.9976],[0.446,0.9973],[0.448,0.9978],[0.450,0.9975],[0.452,0.9980],[0.454,0.9977],[0.456,0.9982],[0.458,0.9979],[0.460,0.9984],[0.462,0.9980],[0.464,0.9986],[0.466,0.9982],[0.468,0.9987],[0.470,0.9984],[0.472,0.9989],[0.474,0.9985],[0.476,0.9990],[0.478,0.9987],[0.480,0.9991],[0.482,0.9988],[0.484,0.9992],[0.486,0.9989],[0.488,0.9993],[0.490,0.9990],[0.492,0.9995],[0.494,0.9994],[0.496,0.9998],[0.498,1.0000],[0.500,1.0004],[0.502,1.0006],[0.504,1.0011],[0.506,1.0012],[0.508,1.0016],[0.510,1.0013],[0.512,1.0017],[0.514,1.0014],[0.516,1.0018],[0.518,1.0015],[0.520,1.0019],[0.522,1.0016],[0.524,1.0020],[0.526,1.0016],[0.528,1.0021],[0.530,1.0017],[0.532,1.0022],[0.534,1.0018],[0.536,1.0023],[0.538,1.0019],[0.540,1.0024],[0.542,1.0020],[0.544,1.0025],[0.546,1.0021],[0.548,1.0025],[0.550,1.0021],[0.552,1.0026],[0.554,1.0022],[0.556,1.0026],[0.558,1.0022],[0.560,1.0027],[0.562,1.0022],[0.564,1.0026],[0.566,1.0022],[0.568,1.0026],[0.570,1.0021],[0.572,1.0025],[0.574,1.0022],[0.576,1.0026],[0.578,1.0023],[0.580,1.0025]];

// Panel 13: TRAPPIST 2015-07-19
const p13=[[0.318,1.0013],[0.320,0.9986],[0.322,0.9974],[0.323,0.9989],[0.325,1.0014],[0.327,0.9994],[0.329,1.0025],[0.330,0.9958],[0.332,1.0012],[0.334,0.9979],
[0.336,0.9995],[0.337,1.0013],[0.339,0.9979],[0.341,1.0009],[0.343,1.0014],[0.344,0.9984],[0.346,0.9993],[0.348,0.9976],[0.350,0.9978],[0.351,0.9965],
[0.353,0.9988],[0.355,0.9982],[0.357,1.0019],[0.358,1.0013],[0.360,1.0027],[0.362,1.0001],[0.364,1.0004],[0.365,0.9994],[0.367,0.9994],[0.369,1.0001],
[0.371,0.9982],[0.372,0.9998],[0.374,1.0013],[0.376,1.0007],[0.378,1.0021],[0.379,0.9978],[0.381,0.9999],[0.383,0.9990],[0.385,1.0005],[0.386,1.0016],
[0.388,1.0001],[0.390,1.0030],[0.392,1.0002],[0.393,0.9983],[0.395,0.9991],[0.397,1.0009],[0.399,0.9968],[0.400,1.0026],[0.402,0.9999],[0.404,1.0000],
[0.406,1.0003],[0.407,0.9977],[0.409,0.9990],[0.411,1.0015],[0.413,0.9975],[0.414,1.0000],[0.416,0.9995],[0.418,1.0006],[0.420,1.0008],[0.421,0.9975],
[0.423,1.0001],[0.425,1.0003],[0.427,0.9925],[0.428,0.9990],[0.430,0.9993],[0.432,0.9967],[0.434,1.0017],[0.435,0.9985],[0.437,0.9985],[0.439,0.9987],
[0.441,1.0007],[0.442,1.0010],[0.444,1.0013],[0.446,1.0002],[0.448,0.9994],[0.449,0.9997],[0.451,0.9994],[0.453,0.9963],[0.455,0.9976],[0.456,0.9998],
[0.458,1.0002],[0.460,0.9981],[0.462,1.0023],[0.463,1.0020],[0.465,1.0000],[0.467,0.9985],[0.469,1.0011],[0.470,1.0008],[0.472,1.0009],[0.474,0.9998],
[0.476,0.9989],[0.477,0.9992],[0.479,0.9990],[0.481,1.0019],[0.483,1.0010],[0.484,1.0014],[0.486,0.9994],[0.488,1.0001],[0.490,1.0001],[0.491,0.9995],
[0.493,1.0018],[0.495,0.9996],[0.497,0.9972],[0.498,1.0009],[0.500,1.0002],[0.502,1.0029],[0.504,1.0011],[0.505,0.9979],[0.507,1.0001],[0.509,1.0006],
[0.511,1.0018],[0.512,0.9997],[0.514,0.9966],[0.516,0.9978],[0.518,1.0016],[0.519,1.0010],[0.521,0.9972],[0.523,0.9997],[0.525,0.9969],[0.526,1.0011],
[0.528,0.9974],[0.530,1.0004],[0.532,0.9994],[0.533,0.9977],[0.535,1.0017],[0.537,1.0002],[0.539,0.9997],[0.540,0.9986],[0.542,1.0020],[0.544,0.9995],
[0.546,0.9952],[0.547,0.9979],[0.549,0.9985],[0.551,1.0013],[0.553,0.9986],[0.554,1.0017],[0.556,0.9989],[0.558,1.0001],[0.560,1.0014],[0.561,1.0004],
[0.563,1.0011],[0.565,1.0009],[0.567,0.9975],[0.568,1.0003],[0.570,0.9982]];
const m13=[[0.318,1.0000],[0.39,1.0002],[0.405,1.0004],[0.42,0.9998],[0.46,0.9997],[0.50,0.9996],[0.51,0.9996],[0.514,1.0001],[0.570,1.0002]];

// Panel 14: EulerCam 2015-07-19
const p14=[[0.375,1.0004],[0.376,0.9989],[0.378,0.9994],[0.379,0.9987],[0.381,0.9983],[0.382,0.9986],[0.384,0.9981],[0.385,0.9964],[0.387,0.9969],[0.388,0.9983],
[0.390,0.9992],[0.391,0.9976],[0.393,0.9995],[0.394,1.0000],[0.396,0.9990],[0.397,0.9981],[0.399,0.9992],[0.400,0.9995],[0.402,0.9994],[0.403,0.9993],
[0.405,0.9989],[0.406,0.9984],[0.408,0.9983],[0.409,0.9999],[0.411,1.0001],[0.412,0.9999],[0.414,0.9992],[0.415,0.9997],[0.417,0.9991],[0.418,0.9995],
[0.420,1.0005],[0.421,0.9995],[0.423,0.9979],[0.424,0.9999],[0.426,0.9994],[0.427,1.0011],[0.429,1.0009],[0.430,0.9986],[0.432,0.9997],[0.433,1.0001],
[0.435,1.0008],[0.436,1.0005],[0.438,0.9984],[0.439,0.9983],[0.441,1.0004],[0.442,1.0007],[0.444,0.9983],[0.445,0.9998],[0.447,0.9988],[0.448,1.0004],
[0.450,0.9988],[0.451,1.0000],[0.453,1.0002],[0.454,0.9992],[0.456,1.0007],[0.457,1.0010],[0.459,1.0009],[0.460,0.9992],[0.462,1.0012],[0.463,1.0009],
[0.465,1.0006],[0.466,0.9995],[0.468,0.9994],[0.469,1.0014],[0.471,1.0004],[0.472,1.0015],[0.474,1.0004],[0.475,1.0004],[0.477,1.0014],[0.478,1.0014],
[0.480,1.0020],[0.481,1.0020],[0.483,1.0002],[0.484,1.0010],[0.486,1.0003],[0.487,1.0005],[0.489,1.0021],[0.490,1.0014],[0.492,1.0002],[0.493,1.0017],
[0.495,1.0027],[0.496,1.0014],[0.498,1.0016],[0.499,1.0007],[0.501,1.0009],[0.502,1.0013],[0.504,1.0025],[0.505,1.0010],[0.507,1.0020],[0.508,1.0033],
[0.510,1.0040],[0.511,1.0023],[0.513,1.0023],[0.514,1.0022],[0.516,1.0020],[0.517,1.0027],[0.519,1.0024],[0.520,1.0017],[0.522,1.0020],[0.523,1.0034],
[0.525,1.0029],[0.526,1.0034],[0.528,1.0046],[0.529,1.0017],[0.531,1.0032],[0.532,1.0017],[0.534,1.0032],[0.535,1.0037],[0.537,1.0036],[0.538,1.0049],
[0.540,1.0036],[0.542,1.0033],[0.544,1.0046],[0.546,1.0039],[0.548,1.0034],[0.550,1.0049],[0.552,1.0037],[0.554,1.0043],[0.556,1.0043],[0.558,1.0041],
[0.560,1.0049],[0.562,1.0052],[0.564,1.0043],[0.566,1.0060],[0.568,1.0071],[0.570,1.0054],[0.572,1.0057],[0.575,1.0059],[0.578,1.0048],[0.581,1.0051],
[0.584,1.0058],[0.587,1.0056],[0.590,1.0066],[0.593,1.0075],[0.596,1.0055],[0.599,1.0073]];
const m14=[[0.375,0.9990],[0.377,0.9976],[0.380,0.9986],[0.383,0.9981],[0.386,0.9987],[0.389,0.9983],[0.392,0.9989],[0.395,0.9984],[0.398,0.9990],[0.401,0.9986],[0.404,0.9992],[0.407,0.9988],[0.410,0.9994],[0.413,0.9990],[0.416,0.9996],[0.419,0.9992],[0.422,0.9997],[0.425,0.9994],[0.428,0.9999],[0.431,0.9996],[0.434,1.0001],[0.437,0.9998],[0.440,1.0003],[0.443,1.0000],[0.446,1.0005],[0.449,1.0002],[0.452,1.0007],[0.455,1.0004],[0.458,1.0009],[0.461,1.0006],[0.464,1.0011],[0.467,1.0008],[0.470,1.0013],[0.473,1.0009],[0.476,1.0015],[0.479,1.0011],[0.482,1.0017],[0.485,1.0013],[0.488,1.0019],[0.491,1.0015],[0.494,1.0021],[0.497,1.0014],[0.500,1.0020],[0.503,1.0016],[0.506,1.0023],[0.509,1.0019],[0.512,1.0026],[0.515,1.0022],[0.518,1.0029],[0.521,1.0025],[0.524,1.0031],[0.527,1.0027],[0.530,1.0032],[0.533,1.0029],[0.536,1.0036],[0.539,1.0032],[0.542,1.0039],[0.545,1.0035],[0.548,1.0043],[0.551,1.0039],[0.554,1.0046],[0.557,1.0042],[0.560,1.0050],[0.563,1.0046],[0.566,1.0054],[0.569,1.0050],[0.572,1.0058],[0.575,1.0055],[0.578,1.0062],[0.581,1.0059],[0.584,1.0067],[0.587,1.0064],[0.590,1.0072],[0.593,1.0070],[0.596,1.0078],[0.599,1.0076],[0.602,1.0084],[0.605,1.0088]];

// Panel 15: EulerCam 2015-07-20
const p15=[[0.372,0.9956],[0.373,0.9974],[0.375,0.9981],[0.376,0.9988],[0.378,0.9965],[0.379,0.9981],[0.381,0.9976],[0.382,0.9982],[0.384,0.9988],[0.385,0.9981],
[0.387,0.9971],[0.388,0.9988],[0.390,0.9979],[0.391,0.9977],[0.393,0.9977],[0.394,0.9969],[0.396,0.9989],[0.397,0.9973],[0.399,0.9975],[0.400,0.9989],
[0.402,0.9985],[0.403,0.9989],[0.405,0.9994],[0.406,0.9970],[0.408,0.9988],[0.409,0.9980],[0.411,0.9978],[0.412,0.9994],[0.414,0.9999],[0.415,0.9964],
[0.417,0.9999],[0.418,0.9991],[0.420,0.9982],[0.421,0.9988],[0.423,0.9982],[0.424,1.0001],[0.426,0.9992],[0.427,0.9994],[0.429,0.9989],[0.430,0.9988],
[0.432,0.9999],[0.433,0.9993],[0.435,0.9995],[0.436,0.9996],[0.438,0.9999],[0.439,1.0014],[0.441,1.0002],[0.442,1.0004],[0.444,0.9988],[0.445,0.9989],
[0.447,0.9980],[0.448,0.9989],[0.450,0.9989],[0.451,0.9994],[0.453,0.9993],[0.454,1.0011],[0.456,1.0000],[0.457,0.9994],[0.459,1.0010],[0.460,0.9996],
[0.462,0.9997],[0.463,1.0007],[0.465,0.9998],[0.466,1.0017],[0.468,1.0004],[0.469,1.0010],[0.471,0.9996],[0.472,0.9993],[0.474,1.0005],[0.475,1.0013],
[0.477,0.9996],[0.478,1.0002],[0.480,1.0010],[0.481,1.0002],[0.483,1.0009],[0.484,1.0015],[0.486,1.0019],[0.487,1.0015],[0.489,1.0012],[0.490,1.0003],
[0.492,1.0008],[0.493,1.0002],[0.495,1.0018],[0.496,1.0000],[0.498,1.0017],[0.499,1.0017],[0.501,1.0016],[0.502,1.0007],[0.504,1.0002],[0.505,1.0026],
[0.507,1.0000],[0.508,1.0003],[0.510,1.0005],[0.511,1.0023],[0.513,1.0018],[0.514,1.0012],[0.516,1.0017],[0.517,1.0014],[0.519,1.0025],[0.520,1.0038],
[0.522,1.0020],[0.523,1.0028],[0.525,1.0032],[0.526,1.0027],[0.528,1.0016],[0.529,1.0025],[0.531,1.0033],[0.532,1.0027],[0.534,1.0022],[0.535,1.0022],
[0.537,1.0038],[0.538,1.0011],[0.540,1.0031],[0.541,1.0036],[0.543,1.0030],[0.544,1.0026],[0.546,1.0006],[0.547,1.0027],[0.549,1.0030],[0.550,1.0010],
[0.552,1.0014],[0.553,1.0024],[0.555,1.0031],[0.556,1.0027],[0.558,1.0026],[0.559,1.0028],[0.561,1.0018],[0.562,1.0032],[0.564,1.0021],[0.565,1.0026]];
const m15=[[0.372,0.9981],[0.374,0.9977],[0.376,0.9982],[0.378,0.9979],[0.380,0.9983],[0.382,0.9980],[0.384,0.9984],[0.386,0.9980],[0.388,0.9984],[0.390,0.9981],[0.392,0.9985],[0.394,0.9982],[0.396,0.9986],[0.398,0.9983],[0.400,0.9987],[0.402,0.9984],[0.404,0.9988],[0.406,0.9985],[0.408,0.9989],[0.410,0.9986],[0.412,0.9991],[0.414,0.9988],[0.416,0.9992],[0.418,0.9989],[0.420,0.9993],[0.422,0.9990],[0.424,0.9995],[0.426,0.9992],[0.428,0.9996],[0.430,0.9993],[0.432,0.9997],[0.434,0.9995],[0.436,0.9999],[0.438,0.9996],[0.440,1.0000],[0.442,0.9997],[0.444,1.0002],[0.446,0.9999],[0.448,1.0003],[0.450,1.0000],[0.452,1.0004],[0.454,1.0001],[0.456,1.0005],[0.458,1.0002],[0.460,1.0006],[0.462,1.0003],[0.464,1.0007],[0.466,1.0004],[0.468,1.0008],[0.470,1.0005],[0.472,1.0009],[0.474,1.0006],[0.476,1.0010],[0.478,1.0007],[0.480,1.0011],[0.482,1.0008],[0.484,1.0012],[0.486,1.0009],[0.488,1.0013],[0.490,1.0010],[0.492,1.0014],[0.494,1.0011],[0.496,1.0015],[0.498,1.0012],[0.500,1.0016],[0.502,1.0013],[0.504,1.0017],[0.506,1.0014],[0.508,1.0019],[0.510,1.0015],[0.512,1.0020],[0.514,1.0017],[0.516,1.0022],[0.518,1.0018],[0.520,1.0023],[0.522,1.0020],[0.524,1.0025],[0.526,1.0021],[0.528,1.0027],[0.530,1.0023],[0.532,1.0029],[0.534,1.0025],[0.536,1.0031],[0.538,1.0027],[0.540,1.0032],[0.542,1.0027],[0.544,1.0031],[0.546,1.0026],[0.548,1.0029],[0.550,1.0024],[0.552,1.0028],[0.554,1.0023],[0.556,1.0027],[0.558,1.0022],[0.560,1.0026],[0.562,1.0022],[0.564,1.0025]];

const series=[
  [t1,f1,mt1,mf1],[t2,f2,mt2,mf2],[t3,f3,mt3,mf3],[t4,f4,mt4,mf4],[t5,f5,mt5,mf5],[t6,f6,mt6,mf6]
];
const pairSeries=[[p7,m7],[p8,m8],[p9,m9],[p10,m10],[p11,m11],[p12,m12],[p13,m13],[p14,m14],[p15,m15]];
const toPts=(ts,fs)=>ts.map((t,j)=>({x:t,y:fs[j]}));
const pairPts=(p)=>p.map(q=>({x:q[0],y:q[1]}));
const allPts=[], allModel=[];
series.forEach(s=>{allPts.push(toPts(s[0],s[1])); allModel.push(toPts(s[2],s[3]));});
pairSeries.forEach(s=>{allPts.push(pairPts(s[0])); allModel.push(pairPts(s[1]));});

// ---- layout ----
const colL=[78,279,479], colW=[201,200,201];
const rowT=[39,159,279,399,519], rowH=120;

const panelPlugin = {
  id:'panelDeco',
  afterDatasetsDraw(chart){
    const o = chart.options.plugins.panelDeco;
    const {ctx, chartArea:a, scales:{x,y}} = chart;
    ctx.save();
    ctx.strokeStyle='#000';
    ctx.lineWidth=1;
    ctx.beginPath();
    for(let k=Math.round(yRange[0]*1000);k<=Math.round(yRange[1]*1000);k++){
      const py=Math.round(y.getPixelForValue(k/1000))+0.5;
      const L=(k%5===0)?6:3;
      ctx.moveTo(a.left,py); ctx.lineTo(a.left+L,py);
      ctx.moveTo(a.right,py); ctx.lineTo(a.right-L,py);
    }
    for(let k=30;k<=64;k+=2){
      const px=Math.round(x.getPixelForValue(k/100))+0.5;
      const L=(k%10===0)?6:3;
      ctx.moveTo(px,a.top); ctx.lineTo(px,a.top+L);
      ctx.moveTo(px,a.bottom); ctx.lineTo(px,a.bottom-L);
    }
    ctx.stroke();
    ctx.lineWidth=1.4;
    ctx.strokeRect(a.left,a.top,a.right-a.left,a.bottom-a.top);
    ctx.fillStyle='#000';
    ctx.font='8.2px "Liberation Mono", monospace';
    ctx.textAlign='left'; ctx.textBaseline='alphabetic';
    ctx.fillText(o.label, a.left+9, a.top+13.5);
    ctx.fillStyle='#222';
    ctx.font='8.3px "Liberation Sans", sans-serif';
    if(o.leftLabels){
      ctx.textAlign='right'; ctx.textBaseline='middle';
      yTickValues.forEach((v,i)=>ctx.fillText(yTickLabels[i], a.left-5, y.getPixelForValue(v)));
    }
    if(o.bottomLabels){
      ctx.textAlign='center'; ctx.textBaseline='top';
      xTickValues.forEach((v,i)=>ctx.fillText(xTickLabels[i], x.getPixelForValue(v), a.bottom+5));
    }
    ctx.restore();
  }
};

const wrap=document.getElementById('wrap');
for(let i=0;i<15;i++){
  const r=Math.floor(i/3), c=i%3;
  const padL=(c===0)?60:2, padR=2, padT=2, padB=(r===4)?20:2;
  const w=colW[c]+padL+padR, h=rowH+padT+padB;
  const cv=document.createElement('canvas');
  cv.width=w; cv.height=h;
  cv.style.width=w+'px'; cv.style.height=h+'px';
  cv.style.left=(colL[c]-padL)+'px'; cv.style.top=(rowT[r]-padT)+'px';
  wrap.appendChild(cv);
  new Chart(cv,{
    type:'scatter',
    data:{datasets:[
      {data:allPts[i],pointRadius:1.6,pointHoverRadius:1.6,backgroundColor:'#000',borderWidth:0,order:2,clip:0},
      {type:'line',data:allModel[i],borderColor:'#ff0000',borderWidth:2,pointRadius:0,fill:false,tension:0,order:1,clip:0}
    ]},
    options:{
      responsive:false,animation:false,devicePixelRatio:1,
      layout:{padding:{left:padL,right:padR,top:padT,bottom:padB}},
      scales:{
        x:{type:'linear',min:xRange[0],max:xRange[1],display:false},
        y:{type:'linear',min:yRange[0],max:yRange[1],display:false}
      },
      plugins:{legend:{display:false},tooltip:{enabled:false},
        panelDeco:{label:panelLabels[i],leftLabels:c===0,bottomLabels:r===4}}
    },
    plugins:[panelPlugin]
  });
}
</script>
</body></html>
